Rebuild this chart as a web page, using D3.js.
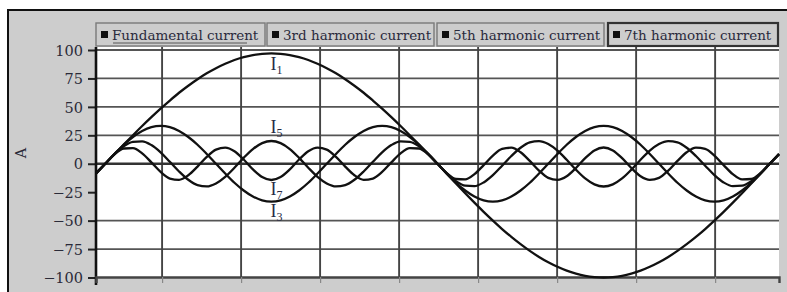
<!DOCTYPE html>
<html>
<head>
<meta charset="utf-8">
<script src="https://cdn.jsdelivr.net/npm/d3@7"></script>
<style>
  body { margin: 0; background: #fff; }
  .TickText { font-family: "DejaVu Serif", serif; font-size: 14.5px; fill: #2a2a38; }
  .LegendText { font-family: "DejaVu Serif", serif; font-size: 13.5px; fill: #2a2a3c; }
  .CurveLabel { font-family: "Liberation Serif", serif; font-size: 18px; fill: #252a44; }
</style>
</head>
<body>
<div id="chart"></div>
<script>
// ------ Data ---------------//
// angle of the fundamental in degrees, one point every 5 degrees
var angles = [-5, 0, 5, 10, 15, 20, 25, 30, 35, 40, 45, 50, 55, 60, 65, 70, 75, 80, 85, 90,
  95, 100, 105, 110, 115, 120, 125, 130, 135, 140, 145, 150, 155, 160, 165, 170, 175, 180,
  185, 190, 195, 200, 205, 210, 215, 220, 225, 230, 235, 240, 245, 250, 255, 260, 265, 270,
  275, 280, 285, 290, 295, 300, 305, 310, 315, 320, 325, 330, 335, 340, 345, 350, 355, 360, 365];

var fundamental = [-8.7, 0, 8.5, 16.8, 25.1, 33.2, 41.0, 48.5, 55.6, 62.4, 68.6, 74.3, 79.5, 84.0, 87.9, 91.2, 93.7, 95.5, 96.6, 97.0,
  96.6, 95.5, 93.7, 91.2, 87.9, 84.0, 79.5, 74.3, 68.6, 62.4, 55.6, 48.5, 41.0, 33.2, 25.1, 16.8, 8.5, 0,
  -8.7, -17.4, -25.9, -34.2, -42.3, -50, -57.4, -64.3, -70.7, -76.6, -81.9, -86.6, -90.6, -94, -96.6, -98.5, -99.6, -100,
  -99.6, -98.5, -96.6, -94, -90.6, -86.6, -81.9, -76.6, -70.7, -64.3, -57.4, -50, -42.3, -34.2, -25.9, -17.4, -8.7, 0, 8.5];

var third = [-8.6,
  0, 8.6, 16.7, 23.5, 28.8, 32.2, 33.3, 32.2, 28.8, 23.5, 16.7, 8.6, 0, -8.6, -16.7, -23.5, -28.8, -32.2, -33.3, -32.2, -28.8, -23.5, -16.7, -8.6,
  0, 8.6, 16.7, 23.5, 28.8, 32.2, 33.3, 32.2, 28.8, 23.5, 16.7, 8.6, 0, -8.6, -16.7, -23.5, -28.8, -32.2, -33.3, -32.2, -28.8, -23.5, -16.7, -8.6,
  0, 8.6, 16.7, 23.5, 28.8, 32.2, 33.3, 32.2, 28.8, 23.5, 16.7, 8.6, 0, -8.6, -16.7, -23.5, -28.8, -32.2, -33.3, -32.2, -28.8, -23.5, -16.7, -8.6,
  0, 8.6];

var fifth = [-8.5, 0, 8.5, 15.3, 19.3, 19.7, 16.4, 10, 1.7, -6.8, -14.1, -18.8, -19.9, -17.3, -11.5, -3.5, 5.2, 12.9, 18.1, 20,
  18.1, 12.9, 5.2, -3.5, -11.5, -17.3, -19.9, -18.8, -14.1, -6.8, 1.7, 10, 16.4, 19.7, 19.3, 15.3, 8.5, 0,
  -8.5, -15.3, -19.3, -19.7, -16.4, -10, -1.7, 6.8, 14.1, 18.8, 19.9, 17.3, 11.5, 3.5, -5.2, -12.9, -18.1, -20,
  -18.1, -12.9, -5.2, 3.5, 11.5, 17.3, 19.9, 18.8, 14.1, 6.8, -1.7, -10, -16.4, -19.7, -19.3, -15.3, -8.5, 0, 8.5];

var seventh = [-8.2, 0, 8.2, 13.4, 13.8, 9.2, 1.2, -7.2, -13.0, -14.1, -10.1, -2.5, 6.0, 12.4, 14.2, 11.0, 3.7, -4.9, -11.7, -14.3,
  -11.7, -4.9, 3.7, 11.0, 14.2, 12.4, 6.0, -2.5, -10.1, -14.1, -13.0, -7.2, 1.2, 9.2, 13.8, 13.4, 8.2, 0,
  -8.2, -13.4, -13.8, -9.2, -1.2, 7.2, 13.0, 14.1, 10.1, 2.5, -6.0, -12.4, -14.2, -11.0, -3.7, 4.9, 11.7, 14.3,
  11.7, 4.9, -3.7, -11.0, -14.2, -12.4, -6.0, 2.5, 10.1, 14.1, 13.0, 7.2, -1.2, -9.2, -13.8, -13.4, -8.2, 0, 8.2];

var seriesNames = ["Fundamental current", "3rd harmonic current", "5th harmonic current", "7th harmonic current"];
var seriesValues = [fundamental, third, fifth, seventh];

var yTicks = [100, 75, 50, 25, 0, -25, -50, -75, -100];
var yGrid = [100, 75, 50, 25, -50, -75];          // the -25 line is not drawn in the original
var xGrid = [30.8, 73.6, 116.4, 159.2, 202, 244.8, 287.6, 330.4];

// curve labels: name, subscript, angle, value
var curveLabels = [
  { main: "I", sub: "1", angle: 89.5, value: 82 },
  { main: "I", sub: "5", angle: 89.5, value: 27 },
  { main: "I", sub: "7", angle: 89.5, value: -27.5 },
  { main: "I", sub: "3", angle: 89.5, value: -47 }
];

// ------ SVG ---------------//
{
var width = 787, height = 292;

var svg = d3.select("#chart").append("svg")
  .attr("width", width)
  .attr("height", height);

var plot = { left: 96, right: 779, top: 47, bottom: 277 };
}

// ------ Background ---------------//
{
  svg.append("rect")
    .attr("x", 8).attr("y", 10)
    .attr("width", width - 8).attr("height", height - 10)
    .attr("fill", "#cdcdcd");

  svg.append("path")
    .attr("d", `M8,${height}V10H${width}`)
    .attr("fill", "none")
    .attr("stroke", "#111")
    .attr("stroke-width", 2);

  svg.append("rect")
    .attr("x", plot.left).attr("y", plot.top)
    .attr("width", plot.right - plot.left).attr("height", plot.bottom - plot.top)
    .attr("fill", "#fff");
}

// ------ Scales ---------------//
{
  var x = d3.scaleLinear()
    .domain([-5, 365])
    .range([plot.left, plot.right]);

  var y = d3.scaleLinear()
    .domain([-100, 100])
    .range([277.5, 50]);
}

// ------ Grid ---------------//
{
  svg.append("g").selectAll("line")
    .data(yGrid)
    .join("line")
    .attr("x1", plot.left).attr("x2", plot.right)
    .attr("y1", d => y(d)).attr("y2", d => y(d))
    .attr("stroke", "#555")
    .attr("stroke-width", 1.8);

  svg.append("g").selectAll("line")
    .data(xGrid)
    .join("line")
    .attr("x1", d => x(d)).attr("x2", d => x(d))
    .attr("y1", plot.top).attr("y2", plot.bottom)
    .attr("stroke", "#444")
    .attr("stroke-width", 1.9);

  // zero line is heavier
  svg.append("line")
    .attr("x1", plot.left).attr("x2", plot.right)
    .attr("y1", y(0)).attr("y2", y(0))
    .attr("stroke", "#333")
    .attr("stroke-width", 2.6);
}

// ------ Axes ---------------//
{
  var yAxis = g => g
    .attr("transform", `translate(${plot.left},0)`)
    .call(d3.axisLeft(y)
      .tickValues(yTicks)
      .tickSize(8)
      .tickPadding(5)
      .tickFormat(d3.format("d")));

  var yg = svg.append("g").call(yAxis);
  yg.select(".domain").remove();
  yg.selectAll(".tick line").attr("stroke", "#222").attr("stroke-width", 2);
  yg.selectAll(".tick text").attr("class", "TickText").attr("dy", "0.36em");

  svg.append("line")
    .attr("x1", plot.left).attr("x2", plot.left)
    .attr("y1", plot.top).attr("y2", 285)
    .attr("stroke", "#111")
    .attr("stroke-width", 2.6);

  var xAxis = g => g
    .attr("transform", `translate(0,${plot.bottom})`)
    .call(d3.axisBottom(x)
      .tickValues(xGrid)
      .tickSize(6)
      .tickFormat(""));

  var xg = svg.append("g").call(xAxis);
  xg.select(".domain").attr("stroke", "#444").attr("stroke-width", 2.4);
  xg.selectAll(".tick line").attr("stroke", "#888").attr("stroke-width", 1.2);

  svg.append("text")
    .attr("class", "TickText")
    .attr("transform", "translate(26,153) rotate(-90)")
    .attr("text-anchor", "middle")
    .text("A");
}

// ------ Lines ---------------//
{
  var line = d3.line()
    .x((d, i) => x(angles[i]))
    .y(d => y(d))
    .curve(d3.curveMonotoneX);

  svg.append("g").selectAll("path")
    .data(seriesValues)
    .join("path")
    .attr("d", line)
    .attr("fill", "none")
    .attr("stroke", "#111")
    .attr("stroke-width", 2.3)
    .attr("stroke-linejoin", "round");
}

// ------ Curve labels ---------------//
{
  var lbl = svg.append("g").selectAll("text")
    .data(curveLabels)
    .join("text")
    .attr("class", "CurveLabel")
    .attr("x", d => x(d.angle))
    .attr("y", d => y(d.value));

  lbl.append("tspan").text(d => d.main);
  lbl.append("tspan")
    .attr("font-size", "12px")
    .attr("dy", 4)
    .text(d => d.sub);
}

// ------ Legend ---------------//
{
  var legendBoxes = [
    { x: 96, w: 169 },
    { x: 267, w: 167 },
    { x: 437, w: 167 },
    { x: 608, w: 170 }
  ];

  var leg = svg.append("g").selectAll("g")
    .data(seriesNames)
    .join("g")
    .attr("transform", (d, i) => `translate(${legendBoxes[i].x},23)`);

  leg.append("rect")
    .attr("width", (d, i) => legendBoxes[i].w)
    .attr("height", 23)
    .attr("fill", "#cdcdcd")
    .attr("stroke", (d, i) => i === 3 ? "#333" : "#7a7a7a")
    .attr("stroke-width", (d, i) => i === 3 ? 2.2 : 1.4);

  leg.append("rect")
    .attr("x", 5).attr("y", 8)
    .attr("width", 7).attr("height", 7)
    .attr("fill", "#111");

  leg.append("text")
    .attr("class", "LegendText")
    .attr("x", 16)
    .attr("y", 16.5)
    .text(d => d);

  // faint underline under the first entry
  svg.append("line")
    .attr("x1", 113).attr("x2", 247)
    .attr("y1", 43).attr("y2", 43)
    .attr("stroke", "#555")
    .attr("stroke-width", 1);
}
</script>
</body>
</html>
